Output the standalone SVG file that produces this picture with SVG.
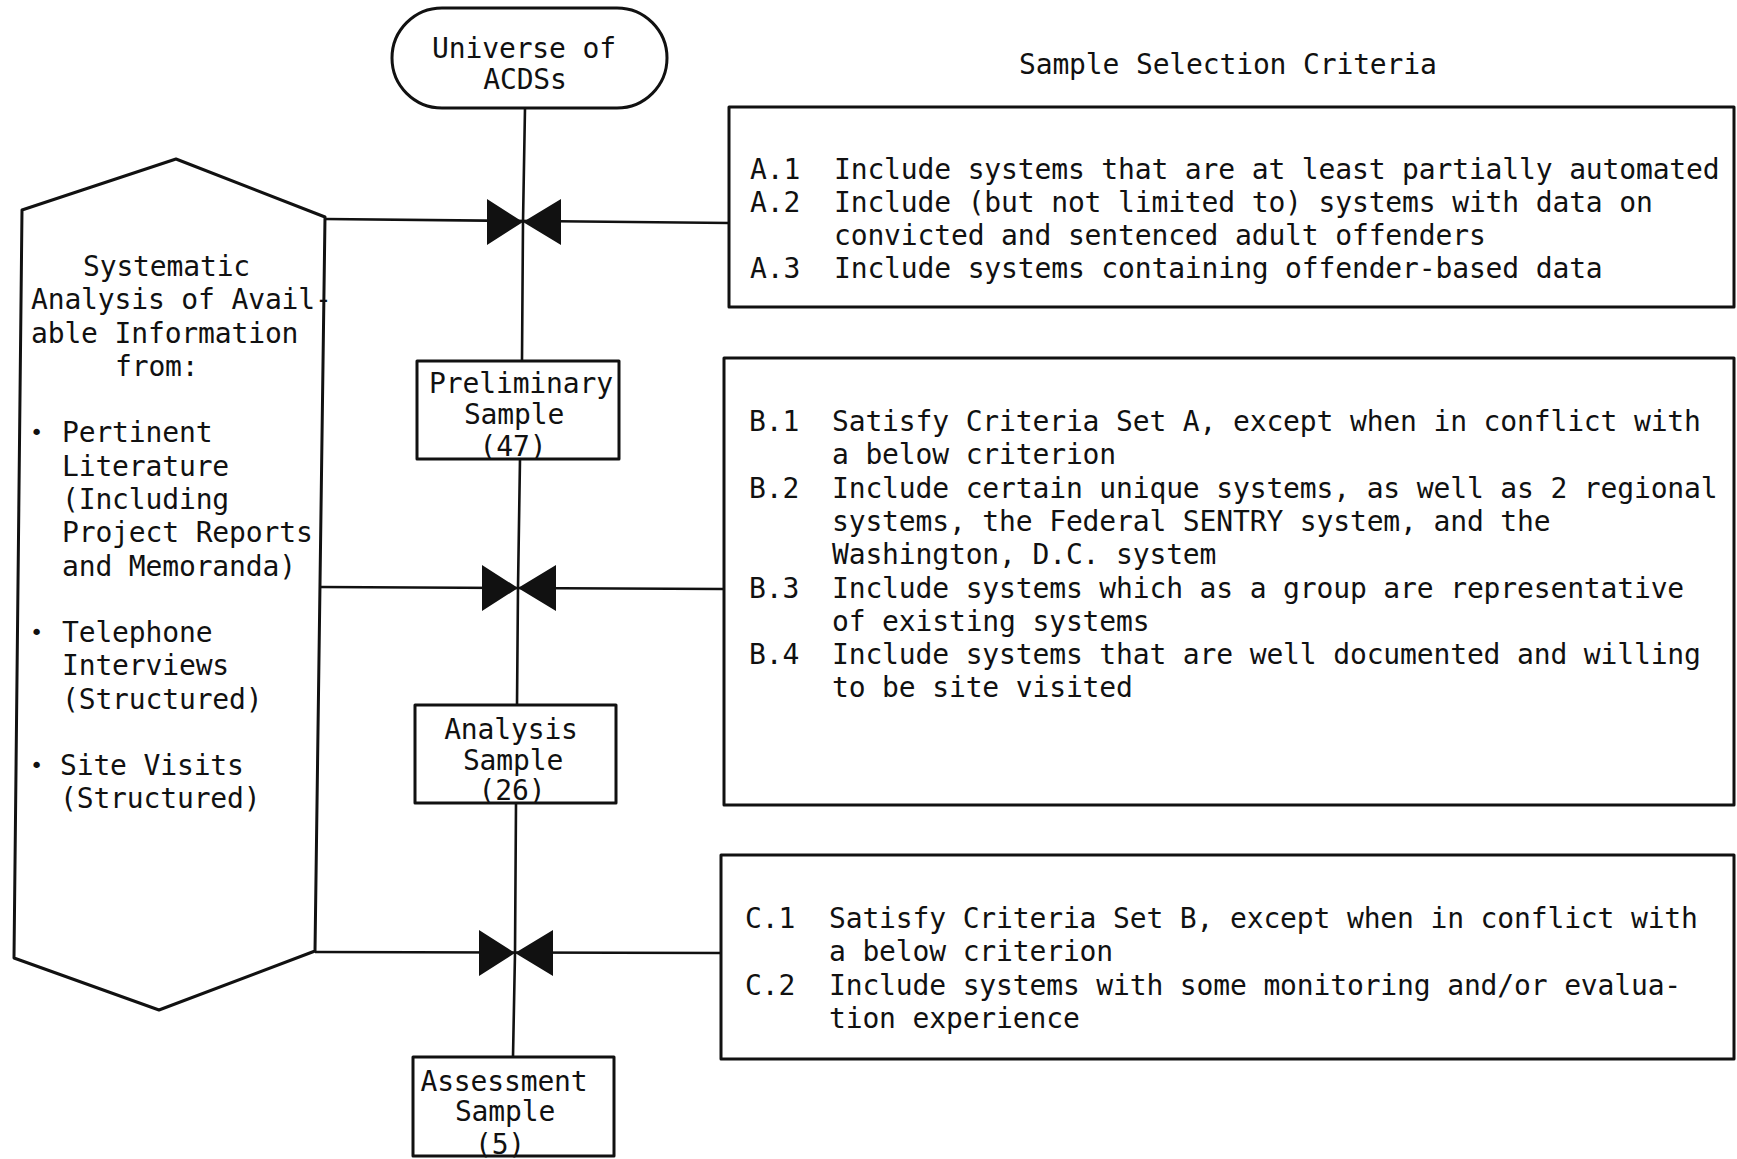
<svg xmlns="http://www.w3.org/2000/svg" width="1737" height="1159" viewBox="0 0 1737 1159">
  <style>
    .shape { fill: #fff; stroke: #111; stroke-width: 3; stroke-linejoin: round; }
    .ln { fill: none; stroke: #111; stroke-width: 2.6; }
    .gate { fill: #111; }
    text { font-family: "DejaVu Sans Mono", "Liberation Mono", monospace; font-size: 28px; letter-spacing: -0.15px; fill: #111; }
    .c { text-anchor: middle; }
    .dot { font-size: 22px; }
  </style>
  <defs>
    <!-- bow-tie gate placed on the flow line where criteria are applied -->
    <path id="bowtie" d="M -36,-23 L 0,0 L -36,23 Z M 38,-23 L 0,0 L 38,23 Z"/>
  </defs>

  <rect width="1737" height="1159" fill="#fff"/>

  <!-- connectors: main flow line, criteria feed lines and gates -->
  <g id="connectors">
    <polyline class="ln" points="525,108 523,222 522,361"/>
    <polyline class="ln" points="520,459 518,588 517,705"/>
    <polyline class="ln" points="516,803 515,953 513,1057"/>
    <line class="ln" x1="325" y1="219" x2="730" y2="223"/>
    <line class="ln" x1="320" y1="587" x2="724" y2="589"/>
    <line class="ln" x1="315" y1="952" x2="722" y2="953"/>
    <use href="#bowtie" class="gate" x="523" y="222"/>
    <use href="#bowtie" class="gate" x="518" y="588"/>
    <use href="#bowtie" class="gate" x="515" y="953"/>
  </g>

  <!-- start terminal -->
  <g id="universe">
    <rect class="shape" x="392" y="8" width="275" height="100" rx="50" ry="50"/>
    <text class="c" x="524" y="58">Universe of</text>
    <text class="c" x="525" y="89">ACDSs</text>
  </g>

  <!-- information sources -->
  <g id="analysis-sources">
    <polygon class="shape" points="22,210 176,159 325,217 315,951 159,1010 14,958"/>
    <text x="83" y="276">Systematic</text>
    <text x="31" y="309">Analysis of Avail-</text>
    <text x="31" y="343">able Information</text>
    <text x="115" y="376">from:</text>
    <text class="dot" x="30" y="440">•</text>
    <text x="62" y="442">Pertinent</text>
    <text x="62" y="476">Literature</text>
    <text x="62" y="509">(Including</text>
    <text x="62" y="542">Project Reports</text>
    <text x="62" y="576">and Memoranda)</text>
    <text class="dot" x="30" y="640">•</text>
    <text x="62" y="642">Telephone</text>
    <text x="62" y="675">Interviews</text>
    <text x="62" y="709">(Structured)</text>
    <text class="dot" x="30" y="773">•</text>
    <text x="60" y="775">Site Visits</text>
    <text x="60" y="808">(Structured)</text>
  </g>

  <g id="title">
    <text x="1019" y="74">Sample Selection Criteria</text>
  </g>

  <!-- criteria set A -->
  <g id="criteria-a">
    <rect class="shape" x="729" y="107" width="1005" height="200"/>
    <text x="750" y="179">A.1</text>
    <text x="834" y="179">Include systems that are at least partially automated</text>
    <text x="750" y="212">A.2</text>
    <text x="834" y="212">Include (but not limited to) systems with data on</text>
    <text x="834" y="245">convicted and sentenced adult offenders</text>
    <text x="750" y="278">A.3</text>
    <text x="834" y="278">Include systems containing offender-based data</text>
  </g>

  <g id="preliminary-sample">
    <rect class="shape" x="417" y="361" width="202" height="98"/>
    <text class="c" x="521" y="393">Preliminary</text>
    <text class="c" x="514" y="424">Sample</text>
    <text class="c" x="513" y="456">(47)</text>
  </g>

  <!-- criteria set B -->
  <g id="criteria-b">
    <rect class="shape" x="724" y="358" width="1010" height="447"/>
    <text x="749" y="431">B.1</text>
    <text x="832" y="431">Satisfy Criteria Set A, except when in conflict with</text>
    <text x="832" y="464">a below criterion</text>
    <text x="749" y="498">B.2</text>
    <text x="832" y="498">Include certain unique systems, as well as 2 regional</text>
    <text x="832" y="531">systems, the Federal SENTRY system, and the</text>
    <text x="832" y="564">Washington, D.C. system</text>
    <text x="749" y="598">B.3</text>
    <text x="832" y="598">Include systems which as a group are representative</text>
    <text x="832" y="631">of existing systems</text>
    <text x="749" y="664">B.4</text>
    <text x="832" y="664">Include systems that are well documented and willing</text>
    <text x="832" y="697">to be site visited</text>
  </g>

  <g id="analysis-sample">
    <rect class="shape" x="415" y="705" width="201" height="98"/>
    <text class="c" x="511" y="739">Analysis</text>
    <text class="c" x="513" y="770">Sample</text>
    <text class="c" x="512" y="800">(26)</text>
  </g>

  <!-- criteria set C -->
  <g id="criteria-c">
    <rect class="shape" x="721" y="855" width="1013" height="204"/>
    <text x="745" y="928">C.1</text>
    <text x="829" y="928">Satisfy Criteria Set B, except when in conflict with</text>
    <text x="829" y="961">a below criterion</text>
    <text x="745" y="995">C.2</text>
    <text x="829" y="995">Include systems with some monitoring and/or evalua-</text>
    <text x="829" y="1028">tion experience</text>
  </g>

  <g id="assessment-sample">
    <rect class="shape" x="413" y="1057" width="201" height="99"/>
    <text class="c" x="504" y="1091">Assessment</text>
    <text class="c" x="505" y="1121">Sample</text>
    <text class="c" x="500" y="1154">(5)</text>
  </g>
</svg>
